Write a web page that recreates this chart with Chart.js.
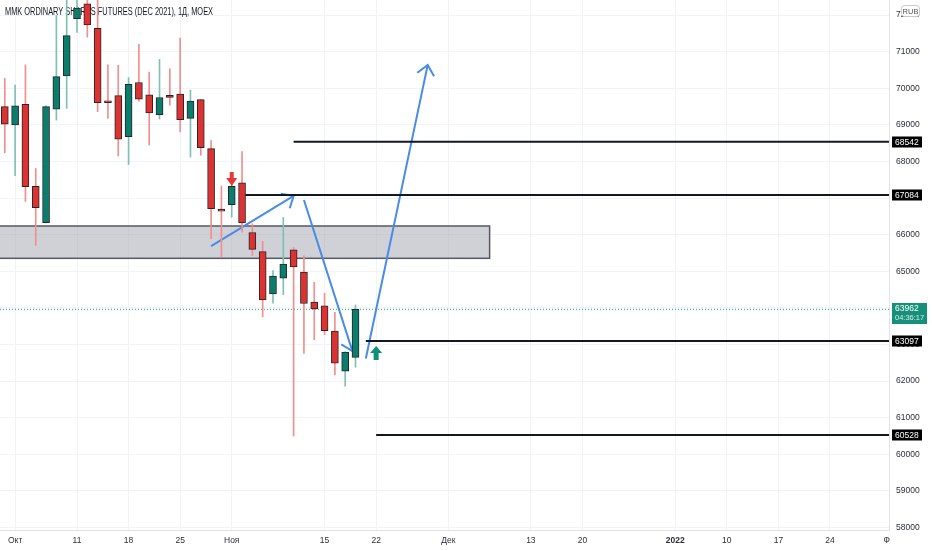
<!DOCTYPE html>
<html>
<head>
<meta charset="utf-8">
<script src="https://cdn.jsdelivr.net/npm/chart.js@4.4.1/dist/chart.umd.min.js"></script>
<style>
  html, body { margin: 0; padding: 0; background: #fff; }
  #wrap { width: 932px; height: 550px; position: relative; }
</style>
</head>
<body>
<div id="wrap"><canvas id="chart"></canvas></div>
<script>
// daily candles, index 0 = 30 Sep 2021 (trading days only)
const opens  = [69500, 69000, 69560, 67320, 66330, 69430, 70340, 71900, 72310, 71640, 69660, 69800, 68680, 70160, 69820, 69280, 69810, 69840, 69180, 69690, 68350, 66700, 66820, 67420, 66060, 65540, 64380, 64810, 65590, 64980, 64160, 64060, 63370, 62270, 62650];
const highs  = [70270, 70090, 70640, 67810, 69520, 71990, 72700, 72800, 72700, 72600, 70640, 70630, 70290, 71200, 70440, 70790, 70530, 71370, 69950, 69700, 68570, 67330, 67580, 68270, 66300, 65820, 65020, 66470, 65650, 65420, 64700, 64400, 63880, 62800, 64080];
const lows   = [68240, 67610, 66910, 65710, 66320, 69130, 69450, 71530, 71400, 69360, 69180, 68150, 67920, 69650, 68450, 69160, 69540, 68810, 68120, 68170, 65890, 65390, 66480, 66070, 65430, 63760, 64130, 64360, 60500, 62760, 63130, 63270, 62170, 61860, 62380];
const closes = [69020, 69520, 67310, 66740, 69500, 70320, 71440, 72190, 71730, 69610, 69610, 68610, 70110, 69700, 69330, 69750, 69750, 69140, 69650, 68380, 66710, 66640, 67320, 66320, 65600, 64220, 64870, 65200, 65120, 64120, 63970, 63380, 62490, 62790, 63962];

// time axis (positions in trading-day index)
const xTickPos  = [1, 7, 12, 17, 22, 31, 36, 43, 51, 56, 65, 70, 75, 80, 85.5];
const xTickText = ["Окт", "11", "18", "25", "Ноя", "15", "22", "Дек", "13", "20", "2022", "10", "17", "24", "Ф"];
const yTicks = [58000, 59000, 60000, 61000, 62000, 63000, 64000, 65000, 66000, 67000, 68000, 69000, 70000, 71000, 72000];

// horizontal levels and the day they start from
const levelValues = [68542, 67084, 63097, 60528];
const levelStart  = [28, 23.3, 35, 36];

const lastPrice = 63962;
const countdown = "04:36:17";

// grey zone
const zoneLow = 65355;
const zoneHigh = 66238;
const zoneEnd = 47;

// blue arrows
const arrowFromX = [20, 29, 35];
const arrowFromY = [65690, 66950, 62620];
const arrowToX   = [28, 33.7, 41];
const arrowToY   = [67060, 62820, 70640];

// signal markers
const sellMark = { x: 22, y: 67330 };
const buyMark  = { x: 36, y: 62960 };

const title = "MMK ORDINARY SHARES FUTURES (DEC 2021), 1Д, MOEX";

const X_MIN = -0.465, X_MAX = 85.72;
const FONT = "'Liberation Sans', Arial, sans-serif";
const UP = "#0a7d6c", DOWN = "#dc3232";
const up = (i) => closes[i] >= opens[i];

const datasets = [
  {
    type: "bar",
    data: opens.map((o, i) => ({ x: i, y: [o, closes[i]] })),
    backgroundColor: (c) => (up(c.dataIndex) ? UP : DOWN),
    borderColor: "#262626",
    borderWidth: 1,
    borderSkipped: false,
    barThickness: 7,
    grouped: false,
  },
  {
    type: "bar",
    data: lows.map((l, i) => ({ x: i, y: [l, highs[i]] })),
    backgroundColor: (c) => (up(c.dataIndex) ? "#7fc0b5" : "#ef8f8f"),
    borderWidth: 0,
    barThickness: 1,
    grouped: false,
  },
];

levelValues.forEach((v, i) => {
  datasets.push({
    type: "line",
    data: [{ x: levelStart[i], y: v }, { x: X_MAX, y: v }],
    borderColor: "#131722",
    borderWidth: 2,
    pointRadius: 0,
  });
});

datasets.push({
  type: "line",
  data: [{ x: X_MIN, y: lastPrice }, { x: X_MAX, y: lastPrice }],
  borderColor: "#1a9a86",
  borderWidth: 1,
  borderDash: [1, 2],
  pointRadius: 0,
});

arrowFromX.forEach((x0, i) => {
  datasets.push({
    type: "line",
    data: [{ x: x0, y: arrowFromY[i] }, { x: arrowToX[i], y: arrowToY[i] }],
    borderColor: "#4a8be6",
    borderWidth: 2,
    pointRadius: 0,
  });
});

const drawings = {
  id: "drawings",
  beforeDatasetsDraw(chart) {
    const { ctx, chartArea: a, scales: { x, y } } = chart;
    ctx.save();
    // zone
    const zx1 = x.getPixelForValue(zoneEnd);
    const zy0 = y.getPixelForValue(zoneHigh);
    const zy1 = y.getPixelForValue(zoneLow);
    ctx.fillStyle = "rgba(160,163,173,0.5)";
    ctx.fillRect(a.left, zy0, zx1 - a.left, zy1 - zy0);
    ctx.strokeStyle = "#555862";
    ctx.lineWidth = 1.5;
    ctx.strokeRect(a.left - 2, zy0, zx1 - a.left + 2, zy1 - zy0);
    // arrow heads
    ctx.strokeStyle = "#4a8be6";
    ctx.lineWidth = 2;
    arrowFromX.forEach((x0, i) => {
      const px0 = x.getPixelForValue(x0), py0 = y.getPixelForValue(arrowFromY[i]);
      const px1 = x.getPixelForValue(arrowToX[i]), py1 = y.getPixelForValue(arrowToY[i]);
      const ang = Math.atan2(py1 - py0, px1 - px0);
      ctx.beginPath();
      ctx.moveTo(px1 - 13 * Math.cos(ang - 0.72), py1 - 13 * Math.sin(ang - 0.72));
      ctx.lineTo(px1, py1);
      ctx.lineTo(px1 - 13 * Math.cos(ang + 0.72), py1 - 13 * Math.sin(ang + 0.72));
      ctx.stroke();
    });
    // title, squeezed to the narrow terminal look
    ctx.fillStyle = "#131722";
    ctx.font = "10px " + FONT;
    ctx.textBaseline = "middle";
    const tw = ctx.measureText(title).width;
    ctx.translate(5, 12);
    ctx.scale(208 / tw, 1);
    ctx.fillText(title, 0, 0);
    ctx.restore();
  },
  afterDatasetsDraw(chart) {
    const { ctx, scales: { x, y } } = chart;
    ctx.save();
    let px = x.getPixelForValue(sellMark.x), py = y.getPixelForValue(sellMark.y);
    ctx.fillStyle = "#e53935";
    ctx.fillRect(px - 2, py - 14, 4, 7);
    ctx.beginPath();
    ctx.moveTo(px - 5.5, py - 8);
    ctx.lineTo(px + 5.5, py - 8);
    ctx.lineTo(px, py);
    ctx.fill();
    px = x.getPixelForValue(buyMark.x);
    py = y.getPixelForValue(buyMark.y);
    ctx.fillStyle = "#0d8f7a";
    ctx.beginPath();
    ctx.moveTo(px - 6, py + 7);
    ctx.lineTo(px + 6, py + 7);
    ctx.lineTo(px, py);
    ctx.fill();
    ctx.fillRect(px - 2.5, py + 7, 5, 7);
    ctx.restore();
  },
  afterDraw(chart) {
    const { ctx, chartArea: a, scales: { y } } = chart;
    ctx.save();
    ctx.font = "8.5px " + FONT;
    ctx.textBaseline = "middle";
    const bx = a.right + 3;
    levelValues.forEach((v) => {
      const py = Math.round(y.getPixelForValue(v));
      ctx.fillStyle = "#000";
      ctx.fillRect(bx, py - 5.5, 30, 11);
      ctx.fillStyle = "#fff";
      ctx.fillText(String(v), bx + 3, py + 0.5);
    });
    const pp = Math.round(y.getPixelForValue(lastPrice));
    ctx.fillStyle = "#16907a";
    ctx.fillRect(bx, pp - 6, 35, 21);
    ctx.fillStyle = "#fff";
    ctx.fillText(String(lastPrice), bx + 3, pp);
    ctx.fillStyle = "#d6eeea";
    ctx.font = "7.5px " + FONT;
    ctx.fillText(countdown, bx + 3, pp + 9);
    // currency badge
    ctx.fillStyle = "#fff";
    ctx.strokeStyle = "#c5c8d0";
    ctx.lineWidth = 1;
    ctx.beginPath();
    ctx.roundRect(901.5, 5.5, 18, 11, 3);
    ctx.fill();
    ctx.stroke();
    ctx.fillStyle = "#555";
    ctx.textAlign = "center";
    ctx.fillText("RUB", 910.5, 11.5);
    ctx.restore();
  },
};

new Chart(document.getElementById("chart"), {
  type: "bar",
  data: { datasets },
  options: {
    responsive: true,
    maintainAspectRatio: false,
    animation: false,
    layout: { padding: 0 },
    plugins: {
      legend: { display: false },
      tooltip: { enabled: false },
    },
    scales: {
      x: {
        type: "linear",
        offset: false,
        min: X_MIN,
        max: X_MAX,
        afterBuildTicks: (s) => {
          s.ticks = xTickPos.map((v) => ({ value: v }));
        },
        afterFit: (s) => {
          s.height = 20;
          s.paddingLeft = 0;
          s.paddingRight = 0;
        },
        grid: {
          offset: false,
          color: (c) => (c.index === xTickPos.length - 1 ? "rgba(0,0,0,0)" : "#f0f3fa"),
          drawTicks: false,
        },
        border: { color: "#e0e3eb" },
        ticks: {
          autoSkip: false,
          maxRotation: 0,
          padding: 6,
          color: "#2a2e39",
          font: (c) => ({ family: FONT, size: 8.5, weight: xTickText[c.index] === "2022" ? "bold" : "normal" }),
          callback: (v, i) => xTickText[i],
        },
      },
      y: {
        position: "right",
        min: 57932,
        max: 72413,
        afterBuildTicks: (s) => {
          s.ticks = yTicks.map((v) => ({ value: v }));
        },
        afterFit: (s) => {
          s.width = 43;
          s.paddingTop = 0;
          s.paddingBottom = 0;
        },
        grid: { color: "#f0f3fa", drawTicks: false },
        border: { color: "#e0e3eb" },
        ticks: {
          padding: 7,
          color: "#2a2e39",
          font: { family: FONT, size: 8.5 },
          callback: (v) => String(v),
        },
      },
    },
  },
  plugins: [drawings],
});
</script>
</body>
</html>
